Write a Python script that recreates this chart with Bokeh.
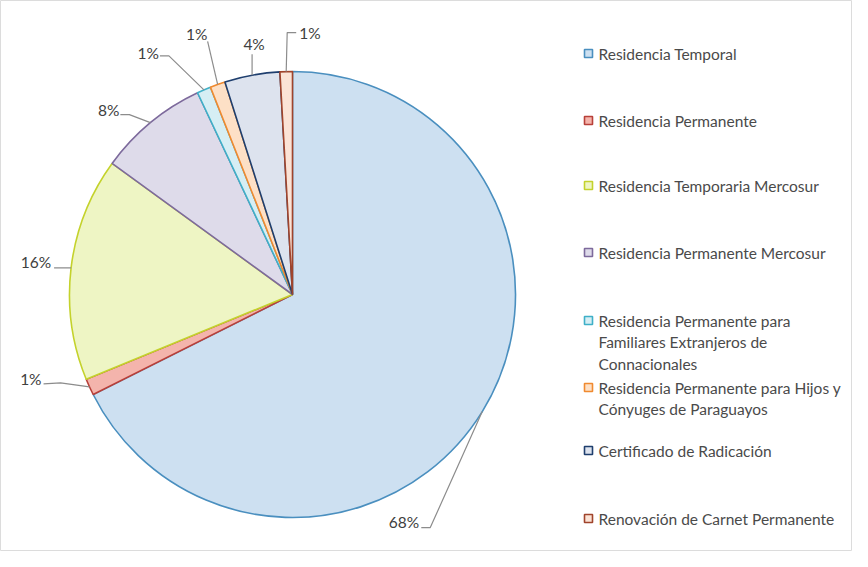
import math
from bokeh.plotting import figure
from bokeh.models import Range1d, ColumnDataSource
from bokeh.core.properties import value
from bokeh.embed import file_html
from bokeh.resources import INLINE

# ---- data ----
categories = [
    "Residencia Temporal",
    "Residencia Permanente",
    "Residencia Temporaria Mercosur",
    "Residencia Permanente Mercosur",
    "Residencia Permanente para\nFamiliares Extranjeros de\nConnacionales",
    "Residencia Permanente para Hijos y\nCónyuges de Paraguayos",
    "Certificado de Radicación",
    "Renovación de Carnet Permanente",
]
shares = [67.6, 1.2, 16.2, 8.0, 1.0, 1.1, 4.0, 0.9]

# ---- styles ----
fills = ["#cde0f1", "#f4b4ac", "#eef5c4", "#dedbea", "#d6eef4", "#fde0c6", "#dde3ee", "#fbe3d6"]
lines = ["#4a8fbf", "#b8403a", "#c4d22c", "#7d6a9c", "#3fb0c8", "#f08a30", "#1f3f6e", "#a0442c"]
FONT = "Lato"
W, H = 852, 551
# screen px layout; data y = -screen_y
CX, CY, R = 292, 294, 223

# label layout per slice: (elbow dx, elbow dy, end dx, end dy, text dx, text dy, align)
label_layout = [
    (-52, 116, -61, 116, -63, 110, "right"),
    (-29, -4, -46, -3, -48, -8, "right"),
    (-17, 0, -17, 0, -20, -6, "right"),
    (-21, -8, -30, -8, -31, -13, "right"),
    (-35, -34, -44, -34, -45, -37, "right"),
    (-10, -43, -10, -43, -21, -50, "center"),
    (0, -21, 0, -21, 2, -31, "center"),
    (1, -39, 10, -39, 13, -39, "left"),
]
legend_y = [53, 120, 185, 252, 320, 387, 450, 518]
LEG_X = 588
LINE_H = 21.5

p = figure(width=W, height=H, output_backend="svg", toolbar_location=None,
           x_range=Range1d(0, W), y_range=Range1d(-H, 0),
           min_border=0)
p.axis.visible = False
p.grid.visible = False
p.outline_line_color = "#dcdcdc"
p.background_fill_color = "white"
p.border_fill_color = "white"

total = sum(shares)
starts, ends, mids = [], [], []
cum = 0.0
for s in shares:
    a0 = math.pi / 2 - 2 * math.pi * cum / total
    cum += s
    a1 = math.pi / 2 - 2 * math.pi * cum / total
    starts.append(a0)
    ends.append(a1)
    mids.append((a0 + a1) / 2)

src = ColumnDataSource(dict(start=starts, end=ends, fill=fills, line=lines))
p.wedge(x=CX, y=-CY, radius=R, start_angle="start", end_angle="end",
        direction="clock", fill_color="fill", line_color="line", line_width=1.6,
        source=src)

# labels with leader lines
for i, s in enumerate(shares):
    ex = CX + R * math.cos(mids[i])
    ey = -CY + R * math.sin(mids[i])
    edx, edy, ndx, ndy, tdx, tdy, al = label_layout[i]
    xs = [ex, ex + edx, ex + ndx]
    ys = [ey, ey - edy, ey - ndy]
    p.line(xs, ys, line_color="#8c8c8c", line_width=1.2)
    p.text(x=[ex + tdx], y=[ey - tdy], text=[f"{round(s / total * 100)}%"],
           text_font=value(FONT), text_font_size="15.5px", text_color="#404040",
           text_align=al, text_baseline="middle")

# legend
for i, cat in enumerate(categories):
    y0 = -legend_y[i]
    p.rect(x=[LEG_X], y=[y0], width=8, height=8, fill_color=fills[i],
           line_color=lines[i], line_width=1.6)
    for j, ln in enumerate(cat.split("\n")):
        p.text(x=[LEG_X + 10], y=[y0 - j * LINE_H], text=[ln],
               text_font=value(FONT), text_font_size="15.5px", text_color="#4a4a4a",
               text_align="left", text_baseline="middle")

open("out.html", "w").write(file_html(p, INLINE))
